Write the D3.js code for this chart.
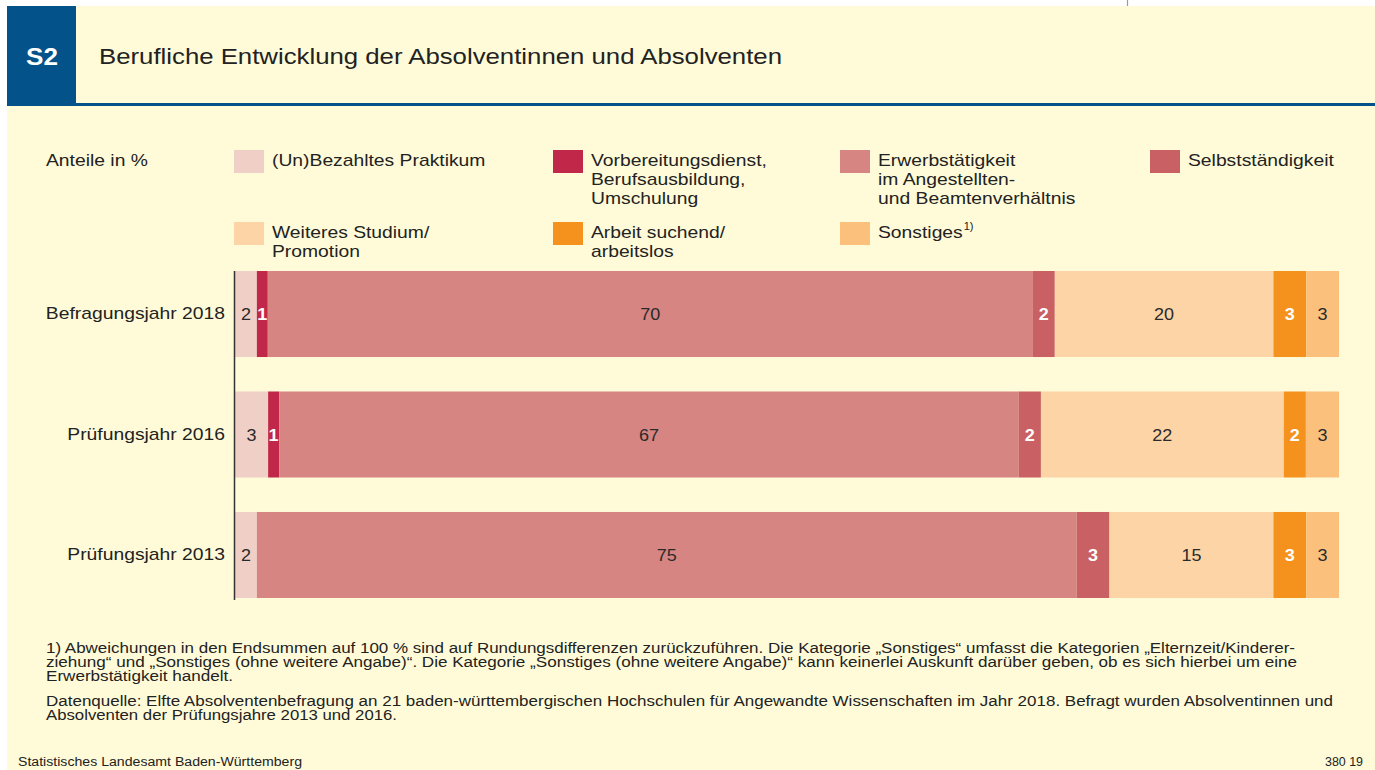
<!DOCTYPE html>
<html>
<head>
<meta charset="utf-8">
<script src="https://cdn.jsdelivr.net/npm/d3@7"></script>
<style>
  body { margin: 0; background: #fff; }
  svg { display: block; font-family: "Liberation Sans", Arial, sans-serif; }
</style>
</head>
<body>
<div id="chart"></div>
<script>
// rows of the chart (top to bottom)
const years = ["Befragungsjahr 2018", "Prüfungsjahr 2016", "Prüfungsjahr 2013"]

// categories, in stack order
const categories = ["praktikum", "vorbereitung", "erwerb", "selbst", "studium", "arbeit", "sonstiges"]
const legendLabels = [
    ["(Un)Bezahltes Praktikum"],
    ["Vorbereitungsdienst,", "Berufsausbildung,", "Umschulung"],
    ["Erwerbstätigkeit", "im Angestellten-", "und Beamtenverhältnis"],
    ["Selbstständigkeit"],
    ["Weiteres Studium/", "Promotion"],
    ["Arbeit suchend/", "arbeitslos"],
    ["Sonstiges"]
]
const colors = ["#f0cfc6", "#c02748", "#d78582", "#c96063", "#fdd4a6", "#f5921e", "#fcc07d"]
// white bold labels on the dark segments
const darkSeg = [false, true, false, true, false, true, false]

// shares in % (as printed)
const praktikum    = [2, 3, 2]
const vorbereitung = [1, 1, 0]
const erwerb       = [70, 67, 75]
const selbst       = [2, 2, 3]
const studium      = [20, 22, 15]
const arbeit       = [3, 2, 3]
const sonstiges    = [3, 3, 3]

const series = [praktikum, vorbereitung, erwerb, selbst, studium, arbeit, sonstiges]

const rows = years.map((y, i) => {
    const r = { year: y }
    categories.forEach((c, k) => { r[c] = series[k][i] })
    return r
})

const W = 1375, H = 770
const cream = "#fffbd8"
const blue = "#035289"
const ink = "#222"

// the print font is a bit wider than Arial, stretch the glyphs
function widen(sel, k = 1.135) {
    sel.each(function () {
        const w = this.getComputedTextLength()
        d3.select(this).attr("textLength", w * k).attr("lengthAdjust", "spacingAndGlyphs")
    })
}

const svg = d3.select("#chart").append("svg")
    .attr("width", W).attr("height", H)

// background
svg.append("rect").attr("x", 7).attr("y", 6).attr("width", W - 7).attr("height", H - 6).attr("fill", cream)
svg.append("line").attr("x1", 1127.5).attr("x2", 1127.5).attr("y1", 0).attr("y2", 6)
    .attr("stroke", "#9a9a9a").attr("stroke-width", 1.2)

// header
svg.append("rect").attr("x", 7).attr("y", 6).attr("width", 69).attr("height", 99).attr("fill", blue)
svg.append("rect").attr("x", 7).attr("y", 103).attr("width", W - 7).attr("height", 3).attr("fill", blue)
svg.append("text").attr("x", 26).attr("y", 65)
    .attr("fill", "#fff").attr("font-weight", "bold").attr("font-size", 23).text("S2")
    .call(widen)
svg.append("text").attr("x", 99).attr("y", 64)
    .attr("fill", ink).attr("font-size", 22)
    .attr("textLength", 683).attr("lengthAdjust", "spacingAndGlyphs")
    .text("Berufliche Entwicklung der Absolventinnen und Absolventen")

// legend
svg.append("text").attr("x", 46).attr("y", 166).attr("fill", ink).attr("font-size", 17)
    .text("Anteile in %").call(widen)

const legendX = [234, 553, 840, 1150, 234, 553, 840]
const legendY = [150, 150, 150, 150, 222, 222, 222]
const lg = svg.append("g").selectAll("g")
    .data(categories)
    .join("g")
    .attr("transform", (d, i) => `translate(${legendX[i]},${legendY[i]})`)
lg.append("rect").attr("width", 30).attr("height", 23).attr("fill", (d, i) => colors[i])
lg.selectAll("text")
    .data((d, i) => legendLabels[i])
    .join("text")
    .attr("x", 38)
    .attr("y", (d, j) => 16 + j * 19)
    .attr("fill", ink).attr("font-size", 17)
    .text(d => d)
    .call(widen)
// superscript on "Sonstiges"
const sonstX = 38 + +lg.filter(d => d === "sonstiges").select("text").attr("textLength")
lg.filter(d => d === "sonstiges").append("text")
    .attr("x", sonstX + 1).attr("y", 8).attr("font-size", 11).attr("fill", ink).text("1)")

// scales
const x = d3.scaleLinear().domain([0, 1]).range([235, 1339])
const y = d3.scaleBand().domain(years).range([271, 598]).paddingInner(0.286)

const stack = d3.stack().keys(categories).offset(d3.stackOffsetExpand)
const stacked = stack(rows)

const groups = svg.append("g").selectAll("g")
    .data(stacked)
    .join("g")
    .attr("fill", (d, i) => colors[i])

groups.selectAll("rect")
    .data(d => d.filter(p => p[1] > p[0]))
    .join("rect")
    .attr("x", d => x(d[0]))
    .attr("y", d => y(d.data.year))
    .attr("width", d => x(d[1]) - x(d[0]))
    .attr("height", y.bandwidth())

// value labels
stacked.forEach((s, i) => {
    svg.append("g").selectAll("text")
        .data(s.filter(p => p[1] > p[0]))
        .join("text")
        .attr("x", d => (x(d[0]) + x(d[1])) / 2)
        .attr("y", d => y(d.data.year) + y.bandwidth() / 2 + 6)
        .attr("text-anchor", "middle")
        .attr("font-size", 16.5)
        .attr("font-weight", darkSeg[i] ? "bold" : "normal")
        .attr("fill", darkSeg[i] ? "#fff" : "#2a2a2a")
        .text(d => d.data[s.key])
        .call(widen, 1.09)
})

// y axis
const yAxis = svg.append("g").attr("transform", "translate(234,0)")
    .call(d3.axisLeft(y).tickSize(0).tickPadding(9))
yAxis.select(".domain").attr("stroke", "#333").attr("stroke-width", 1.5)
    .attr("d", "M0.5,271V600")
yAxis.selectAll("text").attr("font-size", 17).attr("fill", ink)
    .attr("font-family", "Liberation Sans, Arial, sans-serif")
    .call(widen)

// footnotes (widths measured from the print)
const notes = [
    { t: "1) Abweichungen in den Endsummen auf 100 % sind auf Rundungsdifferenzen zurückzuführen. Die Kategorie „Sonstiges“ umfasst die Kategorien „Elternzeit/Kinderer-", y: 653, w: 1249 },
    { t: "ziehung“ und „Sonstiges (ohne weitere Angabe)“. Die Kategorie „Sonstiges (ohne weitere Angabe)“ kann keinerlei Auskunft darüber geben, ob es sich hierbei um eine", y: 667, w: 1251 },
    { t: "Erwerbstätigkeit handelt.", y: 681, w: 187 },
    { t: "Datenquelle: Elfte Absolventenbefragung an 21 baden-württembergischen Hochschulen für Angewandte Wissenschaften im Jahr 2018. Befragt wurden Absolventinnen und", y: 706, w: 1287 },
    { t: "Absolventen der Prüfungsjahre 2013 und 2016.", y: 720, w: 351 }
]
notes.forEach(n => {
    svg.append("text").attr("x", 46).attr("y", n.y)
        .attr("font-size", 14).attr("fill", ink)
        .attr("textLength", n.w).attr("lengthAdjust", "spacingAndGlyphs")
        .text(n.t)
})

svg.append("text").attr("x", 18).attr("y", 766).attr("font-size", 12.5).attr("fill", ink)
    .attr("textLength", 284).attr("lengthAdjust", "spacingAndGlyphs")
    .text("Statistisches Landesamt Baden-Württemberg")
svg.append("text").attr("x", 1325).attr("y", 766).attr("font-size", 12.5).attr("fill", ink)
    .attr("textLength", 38).attr("lengthAdjust", "spacingAndGlyphs")
    .text("380 19")
</script>
</body>
</html>
